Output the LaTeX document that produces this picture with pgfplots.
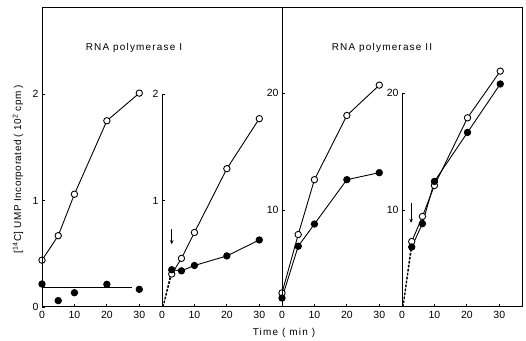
\documentclass[border=0pt]{standalone}
\usepackage{fontspec}
\setmainfont{Liberation Sans}
\newfontfamily\lsfont{Liberation Sans}[LetterSpace=12]
\newfontfamily\lsyfont{Liberation Sans}[LetterSpace=5]
\usepackage{pgfplots}
\usetikzlibrary{arrows.meta}
\pgfplotsset{compat=1.18}
\begin{document}
\begin{tikzpicture}
\useasboundingbox (0bp,0bp) rectangle (526bp,341bp);
\pgfplotsset{
  panel/.style={
    width=120bp, height=299bp, scale only axis,
    xmin=0, xmax=37,
    axis x line*=bottom, axis y line*=left,
    axis line style={draw=none},
    tick align=inside, major tick length=3bp,
    tick style={black, line width=0.8bp},
    xtick={0,10,20,30},
    ticklabel style={font=\fontsize{10.5}{12}\selectfont},
    xticklabel style={yshift=-1bp},
    /pgf/number format/assume math mode=true,
    clip=false,
  },
  op/.style={black, line width=0.9bp, mark=*, mark size=3.2bp, mark options={fill=white, draw=black, line width=0.9bp, solid}},
  fp/.style={black, line width=0.9bp, mark=*, mark size=3.2bp, mark options={fill=black, draw=black, solid}},
  dsh/.style={black, line width=1bp, dashed, dash pattern=on 2.5bp off 1.5bp, no marks},
}
% Panel 1
\begin{axis}[panel, at={(42bp,34bp)}, anchor=south west, ymin=0, ymax=2.81, ytick={0,1,2}]
\addplot[op] coordinates {(0,0.44)(5,0.67)(10,1.06)(20,1.75)(30,2.01)};
\addplot[fp, only marks] coordinates {(0,0.216)(5,0.06)(10,0.134)(20,0.213)(30,0.166)};
\addplot[black, line width=0.9bp, no marks] coordinates {(0.4,0.185)(27.6,0.185)};
\end{axis}
% Panel 2
\begin{axis}[panel, at={(162bp,34bp)}, anchor=south west, ymin=0, ymax=2.81, ytick={1,2}]
\addplot[dsh] coordinates {(0.3,0)(3,0.31)};
\addplot[dsh] coordinates {(0.3,0)(3,0.35)};
\addplot[op] coordinates {(3,0.31)(6,0.457)(10,0.70)(20,1.30)(30,1.77)};
\addplot[fp] coordinates {(3,0.35)(6,0.34)(10,0.39)(20,0.48)(30,0.63)};
\draw[black, line width=0.8bp] (axis cs:0,0) -- (axis cs:0,2);
\draw[black, line width=0.9bp, -{Stealth[length=4bp,width=3.5bp]}] (axis cs:3,0.73) -- (axis cs:3,0.59);
\end{axis}
% Panel 3
\begin{axis}[panel, at={(282bp,34bp)}, anchor=south west, ymin=1.69, ymax=27.31, ytick={10,20}]
\addplot[op] coordinates {(0,2.9)(5,7.9)(10,12.6)(20,18.1)(30,20.7)};
\addplot[fp] coordinates {(0,2.46)(5,6.9)(10,8.8)(20,12.6)(30,13.2)};
\end{axis}
% Panel 4
\begin{axis}[panel, at={(402bp,34bp)}, anchor=south west, ymin=1.69, ymax=27.31, ytick={10,20}]
\addplot[dsh] coordinates {(0.3,1.69)(3,7.3)};
\addplot[dsh] coordinates {(0.3,1.69)(3,6.83)};
\addplot[op] coordinates {(3,7.3)(6.3,9.45)(10,12.1)(20.2,17.9)(30.3,21.9)};
\addplot[fp] coordinates {(3,6.83)(6.3,8.83)(10,12.45)(20.2,16.65)(30.3,20.8)};
\draw[black, line width=0.8bp] (axis cs:0,1.69) -- (axis cs:0,20);
\draw[black, line width=0.9bp, -{Stealth[length=4bp,width=3.5bp]}] (axis cs:2.8,10.6) -- (axis cs:2.8,8.9);
\end{axis}
% frame
\draw[black, line width=1bp] (42bp,34bp) rectangle (522bp,333bp);
\draw[black, line width=1bp] (282bp,34bp) -- (282bp,333bp);
% titles and labels
\node[font=\lsfont\fontsize{10}{12}\selectfont] at (134bp,293bp) {RNA polymerase I};
\node[font=\lsfont\fontsize{10}{12}\selectfont] at (382bp,293bp) {RNA polymerase II};
\node[font=\lsyfont\fontsize{10}{12}\selectfont, rotate=90] at (18bp,172bp) {[\textsuperscript{14}C] UMP Incorporated ( 10\textsuperscript{2} cpm )};
\node[font=\lsfont\fontsize{10}{12}\selectfont] at (284bp,8bp) {Time ( min )};
\end{tikzpicture}
\end{document}
